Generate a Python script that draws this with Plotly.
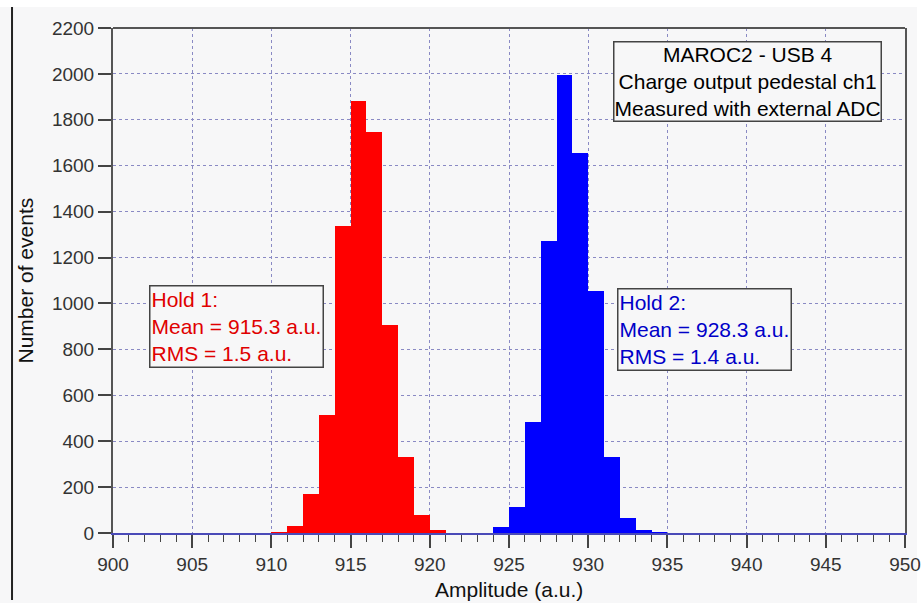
import plotly.graph_objects as go

# Bin lower edges (width 1 a.u.) and counts
red_bins = [910, 911, 912, 913, 914, 915, 916, 917, 918, 919, 920]
red_counts = [4, 32, 170, 515, 1338, 1884, 1746, 907, 331, 77, 14]

blue_bins = [924, 925, 926, 927, 928, 929, 930, 931, 932, 933, 934]
blue_counts = [24, 113, 483, 1270, 1996, 1655, 1055, 329, 65, 11, 3]

box_title = "MAROC2 - USB 4<br>Charge output pedestal ch1<br>Measured with external ADC"
box_hold1 = "Hold 1:<br>Mean = 915.3 a.u.<br>RMS = 1.5 a.u."
box_hold2 = "Hold 2:<br>Mean = 928.3 a.u.<br>RMS = 1.4 a.u."

x_ticks = list(range(900, 951, 5))
y_ticks = list(range(0, 2201, 200))

FONT = "Liberation Sans, Arial, sans-serif"
BG = "#f7f7f8"
GRID = "#8a8ac4"

fig = go.Figure()
fig.add_trace(go.Bar(x=[b + 0.5 for b in red_bins], y=red_counts, width=1,
                     marker=dict(color="#ff0000", line=dict(width=0)), showlegend=False))
fig.add_trace(go.Bar(x=[b + 0.5 for b in blue_bins], y=blue_counts, width=1,
                     marker=dict(color="#0000ff", line=dict(width=0)), showlegend=False))

fig.update_layout(
    width=923, height=603,
    margin=dict(l=113, r=18, t=28, b=70, autoexpand=False),
    paper_bgcolor=BG, plot_bgcolor=BG,
    bargap=0,
    font=dict(family=FONT, size=19, color="#333333"),
    xaxis=dict(range=[900, 950], tickvals=x_ticks, ticks="outside", ticklen=13,
               tickwidth=1.5, tickcolor="#444444", automargin=False,
               minor=dict(dtick=1, ticks="outside", ticklen=7, tickcolor="#444444", tickwidth=1.2, showgrid=False),
               showgrid=True, gridcolor=GRID, griddash="dot", gridwidth=1,
               showline=True, linecolor="#4a4ab8", linewidth=2, zeroline=False,
               tickfont=dict(size=19, color="#333333")),
    yaxis=dict(range=[0, 2200], tickvals=y_ticks, ticks="outside", ticklen=13,
               tickwidth=1.5, tickcolor="#444444", automargin=False,
               showgrid=True, gridcolor=GRID, griddash="dot", gridwidth=1,
               showline=True, mirror=True, linecolor="#555555", linewidth=2, zeroline=False,
               tickfont=dict(size=19, color="#333333")),
)

# top frame line
fig.add_shape(type="line", xref="paper", yref="paper", x0=0, x1=1, y0=1, y1=1,
              line=dict(color="#555555", width=2))
# outer decoration: white strips and left black line
fig.add_shape(type="rect", xref="paper", yref="paper", x0=-0.2, x1=1.03, y0=1.0416, y1=1.06,
              fillcolor="white", line=dict(width=0), layer="below")
fig.add_shape(type="rect", xref="paper", yref="paper", x0=1.0152, x1=1.03, y0=-0.15, y1=1.06,
              fillcolor="white", line=dict(width=0), layer="below")
fig.add_shape(type="line", xref="paper", yref="paper", x0=-0.1275, x1=-0.1275, y0=1.0416, y1=-0.1327,
              line=dict(color="#222222", width=2))

# text boxes
fig.add_annotation(x=940.07, y=2145, xref="x", yref="y", text=box_title, showarrow=False,
                   xanchor="center", yanchor="top", align="center",
                   font=dict(family=FONT, size=21, color="#000000"),
                   bordercolor="#444444", borderwidth=1.5, borderpad=0, bgcolor=BG)
fig.add_annotation(x=902.27, y=1081, xref="x", yref="y", text=box_hold1, showarrow=False,
                   xanchor="left", yanchor="top", align="left",
                   font=dict(family=FONT, size=21, color="#e00000"),
                   bordercolor="#444444", borderwidth=1.5, borderpad=1, bgcolor=BG)
fig.add_annotation(x=931.8, y=1068, xref="x", yref="y", text=box_hold2, showarrow=False,
                   xanchor="left", yanchor="top", align="left",
                   font=dict(family=FONT, size=21, color="#0000c8"),
                   bordercolor="#444444", borderwidth=1.5, borderpad=1, bgcolor=BG)

# axis titles
fig.add_annotation(x=0.5, y=0, xref="paper", yref="paper", text="Amplitude (a.u.)", showarrow=False,
                   xanchor="center", yanchor="middle", yshift=-56,
                   font=dict(family=FONT, size=21, color="#111111"))
fig.add_annotation(x=0, y=0.5, xref="paper", yref="paper", text="Number of events", showarrow=False,
                   xanchor="center", yanchor="middle", xshift=-88, textangle=-90,
                   font=dict(family=FONT, size=21, color="#111111"))

fig.write_html("out.html")
